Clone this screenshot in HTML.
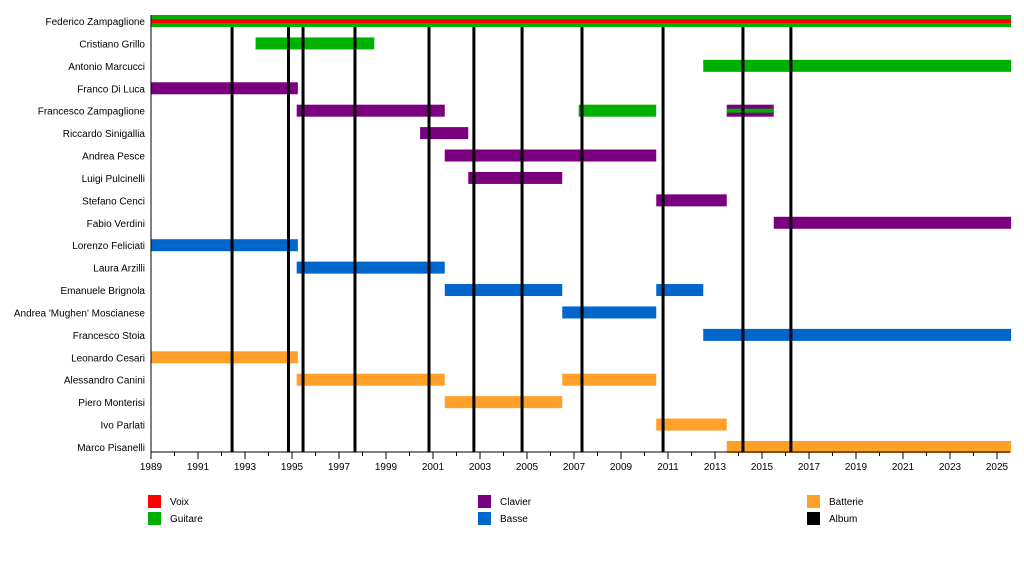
<!DOCTYPE html>
<html><head><meta charset="utf-8"><style>
body{margin:0;background:#fff;font-family:"Liberation Sans",sans-serif}
svg text{font-family:"Liberation Sans",sans-serif;font-size:10px;fill:#000}
</style></head><body>
<svg id="c" width="1024" height="572"></svg>
<script>
const members=["Federico Zampaglione","Cristiano Grillo","Antonio Marcucci","Franco Di Luca","Francesco Zampaglione","Riccardo Sinigallia","Andrea Pesce","Luigi Pulcinelli","Stefano Cenci","Fabio Verdini","Lorenzo Feliciati","Laura Arzilli","Emanuele Brignola","Andrea 'Mughen' Moscianese","Francesco Stoia","Leonardo Cesari","Alessandro Canini","Piero Monterisi","Ivo Parlati","Marco Pisanelli"];
const barRow=[0,1,2,3,4,4,4,5,6,7,8,9,10,11,12,12,13,14,15,16,16,17,18,19];
const barStart=[1989,1993.45,2012.5,1989,1995.2,2007.2,2013.5,2000.45,2001.5,2002.5,2010.5,2015.5,1989,1995.2,2001.5,2010.5,2006.5,2012.5,1989,1995.2,2006.5,2001.5,2010.5,2013.5];
const barEnd=[2025.6,1998.5,2025.6,1995.25,2001.5,2010.5,2015.5,2002.5,2010.5,2006.5,2013.5,2025.6,1995.25,2001.5,2006.5,2012.5,2010.5,2025.6,1995.25,2001.5,2010.5,2006.5,2013.5,2025.6];
const barRole=["Guitare","Guitare","Guitare","Clavier","Clavier","Guitare","Clavier","Clavier","Clavier","Clavier","Clavier","Clavier","Basse","Basse","Basse","Basse","Basse","Basse","Batterie","Batterie","Batterie","Batterie","Batterie","Batterie"];
const stripeRow=[0,4];const stripeStart=[1989,2013.5];const stripeEnd=[2025.6,2015.5];const stripeRole=["Voix","Guitare"];
const albums=[1992.45,1994.85,1995.47,1997.68,2000.83,2002.74,2004.79,2007.34,2010.79,2014.19,2016.23];
const tickYears=[1989,1991,1993,1995,1997,1999,2001,2003,2005,2007,2009,2011,2013,2015,2017,2019,2021,2023,2025];
const roles=["Voix","Guitare","Clavier","Basse","Batterie","Album"];
const roleColor={Voix:"#ff0000",Guitare:"#00b000",Clavier:"#7a0080",Basse:"#0066cc",Batterie:"#ffa028",Album:"#000"};
const NS="http://www.w3.org/2000/svg",svg=document.getElementById('c');
const X=y=>151+(y-1989)*23.5, Y=i=>21+i*22.42;
function el(t,a,p){const e=document.createElementNS(NS,t);for(const k in a)e.setAttribute(k,a[k]);(p||svg).appendChild(e);return e;}
members.forEach((m,i)=>{const t=el('text',{x:145,y:Y(i)+4,'text-anchor':'end'});t.textContent=m;

});
barRow.forEach((r,i)=>{const b=el('rect',{x:X(barStart[i]),y:Y(r)-6,width:X(barEnd[i])-X(barStart[i]),height:12,fill:roleColor[barRole[i]]});

});
stripeRow.forEach((r,i)=>{const b=el('rect',{x:X(stripeStart[i]),y:Y(r)-2,width:X(stripeEnd[i])-X(stripeStart[i]),height:4,fill:roleColor[stripeRole[i]]});

});
albums.forEach(a=>{const l=el('line',{x1:X(a),x2:X(a),y1:27,y2:452,stroke:'#000','stroke-width':3});

});
const ax=el('line',{x1:151,x2:1010,y1:452,y2:452,stroke:'#000','stroke-width':1});


const ay=el('line',{x1:151,x2:151,y1:15,y2:452,stroke:'#000','stroke-width':1});


for(let y=1989;y<=2025;y++){el('line',{x1:X(y),x2:X(y),y1:452,y2:(y%2?459:456),stroke:'#000','stroke-width':1});}
tickYears.forEach(y=>{const t=el('text',{x:X(y),y:470,'text-anchor':'middle'});t.textContent=y;

});
const lx=[148,148,478,478,807,807],ly=[495,512,495,512,495,512];
roles.forEach((r,i)=>{const g=el('g',{});


el('rect',{x:lx[i],y:ly[i],width:13,height:13,fill:roleColor[r]},g);
const t=el('text',{x:lx[i]+22,y:ly[i]+10},g);t.textContent=r;});
</script>
</body></html>
